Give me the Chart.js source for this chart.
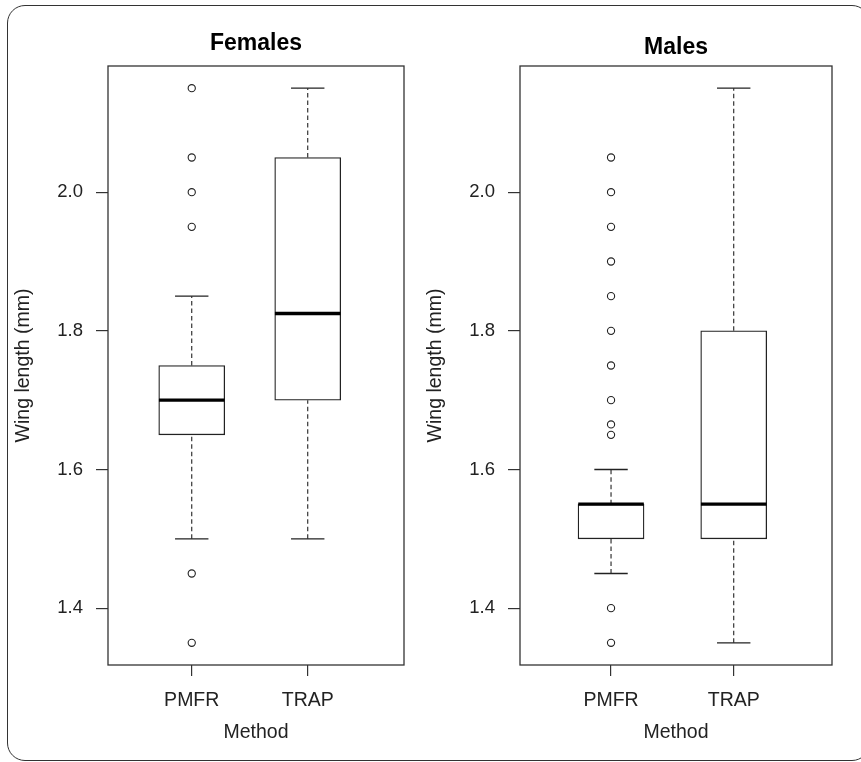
<!DOCTYPE html>
<html>
<head>
<meta charset="utf-8">
<script src="https://cdn.jsdelivr.net/npm/chart.js@4.4.1/dist/chart.umd.min.js"></script>
<style>
  html, body { margin: 0; padding: 0; background: #fff; overflow: hidden; }
  body { width: 861px; height: 762px; position: relative; }
  #frame { position: absolute; left: 7px; top: 5px; width: 863px; height: 756px; box-sizing: border-box; border: 1.5px solid #333; border-radius: 18px; }
  canvas { position: absolute; top: 0; }
  #females { left: 0; }
  #males { left: 412px; }
</style>
</head>
<body>
<div id="frame"></div>
<canvas id="females" width="412" height="762"></canvas>
<canvas id="males" width="449" height="762"></canvas>
<script>
// Data
const CATEGORIES = ['PMFR', 'TRAP'];
const POSITIONS = [1, 2];
const Y_TICKS = [1.4, 1.6, 1.8, 2.0];
const Y_MIN = 1.318;
const Y_MAX = 2.182;

const FEMALE_Q1 = [1.65, 1.70];
const FEMALE_MED = [1.70, 1.825];
const FEMALE_Q3 = [1.75, 2.05];
const FEMALE_LO = [1.50, 1.50];
const FEMALE_HI = [1.85, 2.15];
const FEMALE_OUT_PMFR = [2.15, 2.05, 2.00, 1.95, 1.45, 1.35];
const FEMALE_OUT_TRAP = [];

const MALE_Q1 = [1.50, 1.50];
const MALE_MED = [1.55, 1.55];
const MALE_Q3 = [1.55, 1.80];
const MALE_LO = [1.45, 1.35];
const MALE_HI = [1.60, 2.15];
const MALE_OUT_PMFR = [2.05, 2.00, 1.95, 1.90, 1.85, 1.80, 1.75, 1.70, 1.665, 1.65, 1.40, 1.35];
const MALE_OUT_TRAP = [];

const FONT = "'Liberation Sans', Arial, sans-serif";

// plot box around the chart area
const frame = {
  id: 'frame',
  afterDraw(chart) {
    const a = chart.chartArea, ctx = chart.ctx;
    ctx.save();
    ctx.strokeStyle = '#333';
    ctx.lineWidth = 1.3;
    ctx.strokeRect(a.left, a.top, a.right - a.left, a.bottom - a.top);
    ctx.restore();
  }
};

function boxDatasets(q1, med, q3, lo, hi, outliers) {
  const ds = [];
  // boxes
  ds.push({
    type: 'bar',
    data: POSITIONS.map((x, i) => ({ x, y: [q1[i], q3[i]] })),
    backgroundColor: '#fff', borderColor: '#222', borderWidth: 1.3,
    borderSkipped: false, barThickness: 66, order: 3
  });
  // dashed whiskers
  POSITIONS.forEach((x, i) => {
    [[lo[i], q1[i]], [q3[i], hi[i]]].forEach(([a, b]) => {
      ds.push({
        type: 'line',
        data: [{ x, y: a }, { x, y: b }],
        borderColor: '#222', borderWidth: 1.1, borderDash: [4.5, 3],
        pointRadius: 0, fill: false, order: 2
      });
    });
  });
  // whisker caps
  ds.push({
    type: 'scatter',
    data: POSITIONS.flatMap((x, i) => [{ x, y: lo[i] }, { x, y: hi[i] }]),
    pointStyle: 'line', pointRadius: 16.7, borderColor: '#222', borderWidth: 1.3, order: 1
  });
  // medians
  ds.push({
    type: 'scatter',
    data: POSITIONS.map((x, i) => ({ x, y: med[i] })),
    pointStyle: 'line', pointRadius: 32.8, borderColor: '#000', borderWidth: 3.3, order: 0
  });
  // outliers
  ds.push({
    type: 'scatter',
    data: outliers.flatMap((vals, i) => vals.map(y => ({ x: POSITIONS[i], y }))),
    pointStyle: 'circle', pointRadius: 3.6, borderColor: '#222',
    backgroundColor: '#fff', borderWidth: 1.1, order: 0
  });
  return ds;
}

function makeChart(id, title, titleTop, xMin, xMax, padRight, datasets) {
  return new Chart(document.getElementById(id), {
    type: 'bar',
    data: { datasets },
    options: {
      responsive: false,
      animation: false,
      events: [],
      layout: { autoPadding: false, padding: { left: 0, right: padRight, top: 0, bottom: 0 } },
      plugins: {
        legend: { display: false },
        tooltip: { enabled: false },
        title: {
          display: true, text: title, fullSize: false, color: '#000',
          font: { family: FONT, size: 23, weight: 'bold', lineHeight: 1.2 },
          padding: { top: titleTop, bottom: 38.4 - titleTop }
        }
      },
      scales: {
        x: {
          type: 'linear', min: xMin, max: xMax, offset: false,
          afterBuildTicks: s => { s.ticks = POSITIONS.map(v => ({ value: v })); },
          afterFit: s => { s.height = 97; s.paddingLeft = 0; s.paddingRight = 0; },
          ticks: {
            callback: v => CATEGORIES[POSITIONS.indexOf(v)],
            color: '#222', font: { family: FONT, size: 19.5 },
            padding: 13, maxRotation: 0, autoSkip: false
          },
          grid: { offset: false, drawOnChartArea: false, drawTicks: true, tickLength: 11, color: '#333', lineWidth: 1.2 },
          border: { display: false },
          title: {
            display: true, text: 'Method', color: '#222',
            font: { family: FONT, size: 19.5 }, padding: { top: 0, bottom: 18 }
          }
        },
        y: {
          type: 'linear', min: Y_MIN, max: Y_MAX,
          afterBuildTicks: s => { s.ticks = Y_TICKS.map(v => ({ value: v })); },
          afterFit: s => { s.width = 108; s.paddingTop = 0; s.paddingBottom = 0; },
          ticks: {
            callback: v => v.toFixed(1),
            color: '#222', font: { family: FONT, size: 18.5 }, padding: 13
          },
          grid: { drawOnChartArea: false, drawTicks: true, tickLength: 12, color: '#333', lineWidth: 1.2 },
          border: { display: false },
          title: {
            display: true, text: 'Wing length (mm)', color: '#222',
            font: { family: FONT, size: 19.5 }, padding: { top: 11.6, bottom: 0 }
          }
        }
      }
    },
    plugins: [frame]
  });
}

makeChart('females', 'Females', 29.5, 0.278, 2.830, 8,
  boxDatasets(FEMALE_Q1, FEMALE_MED, FEMALE_Q3, FEMALE_LO, FEMALE_HI, [FEMALE_OUT_PMFR, FEMALE_OUT_TRAP]));
makeChart('males', 'Males', 33.5, 0.258, 2.801, 29,
  boxDatasets(MALE_Q1, MALE_MED, MALE_Q3, MALE_LO, MALE_HI, [MALE_OUT_PMFR, MALE_OUT_TRAP]));
</script>
</body>
</html>
